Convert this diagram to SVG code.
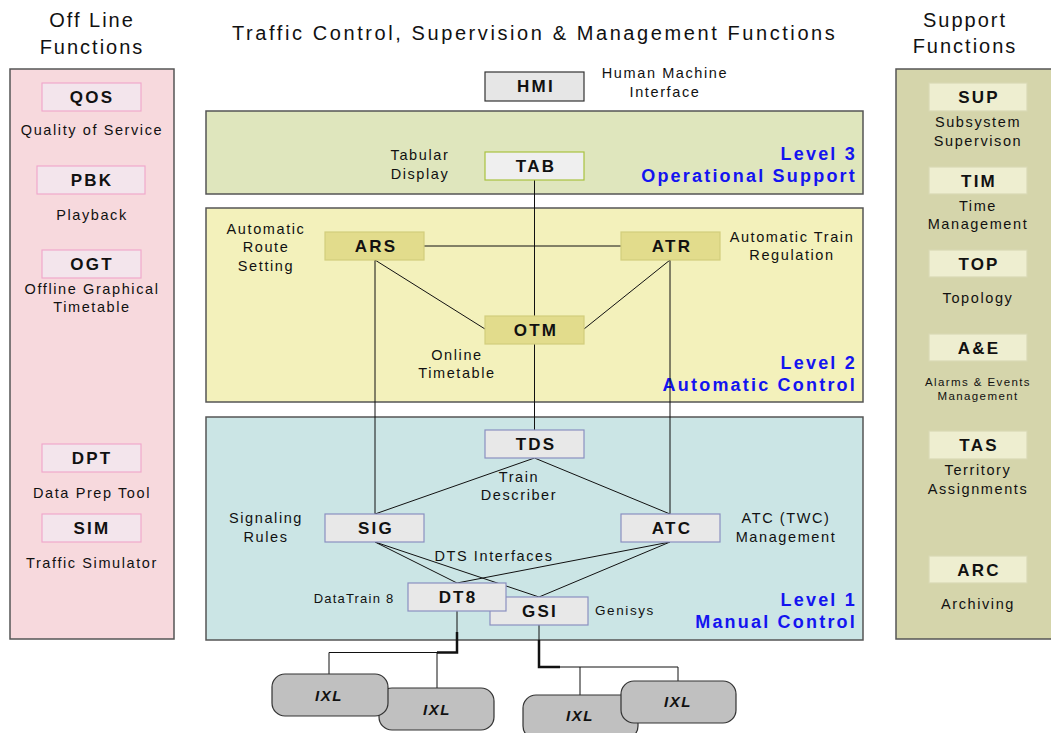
<svg xmlns="http://www.w3.org/2000/svg" width="1051" height="733" viewBox="0 0 1051 733">
<style>
text{font-family:"Liberation Sans",Arial,sans-serif;fill:#111}
.h{font-size:20px;letter-spacing:2px;text-anchor:middle}
.t{font-size:20px;letter-spacing:1.2px;text-anchor:middle}
.b{font-size:17px;font-weight:bold;letter-spacing:2.2px;text-anchor:middle}
.d{font-size:14.5px;letter-spacing:1.6px;text-anchor:middle}
.s{font-size:11.5px;letter-spacing:1.4px;text-anchor:middle}
.lv{font-size:18px;font-weight:bold;letter-spacing:2.2px;text-anchor:end;fill:#1414f0}
.ix{font-size:15px;font-weight:bold;font-style:italic;letter-spacing:1.5px;text-anchor:middle}
.panel{stroke:#555;stroke-width:1.5}
.pk{fill:#f3e5ec;stroke:#f0a8cc;stroke-width:1.2}
.ol{fill:#eeeed0;stroke:#d9d9b4;stroke-width:1.2}
.yl{fill:#e2dc8c;stroke:#d2cd7c;stroke-width:1.2}
.bl{fill:#e8e8e8;stroke:#8a8fc0;stroke-width:1.2}
.ixl{fill:#c0c0c0;stroke:#333;stroke-width:1.2}
.c{stroke:#111;stroke-width:1;fill:none}
.ct{stroke:#111;stroke-width:2.5;fill:none}
</style>

<!-- titles -->
<text class="h" x="92" y="27">Off Line</text>
<text class="h" x="92" y="54">Functions</text>
<text class="h" x="965" y="27">Support</text>
<text class="h" x="965" y="53">Functions</text>
<text class="t" x="534" y="40" textLength="604" lengthAdjust="spacing">Traffic Control, Supervision &amp; Management Functions</text>

<!-- panels -->
<g id="offline-panel"><rect class="panel" x="10" y="69" width="164" height="570" fill="#f7d9dd"/></g>
<g id="support-panel"><rect class="panel" x="896" y="69" width="160" height="570" fill="#d5d5ab"/></g>
<g id="level3"><rect class="panel" x="206" y="111" width="657" height="83" fill="#dfe6bd"/>
<text class="lv" x="857" y="160">Level 3</text><text class="lv" x="857" y="182">Operational Support</text></g>
<g id="level2"><rect class="panel" x="206" y="208" width="657" height="194" fill="#f3f1bb"/>
<text class="lv" x="857" y="369">Level 2</text><text class="lv" x="857" y="391">Automatic Control</text></g>
<g id="level1"><rect class="panel" x="206" y="417" width="657" height="223" fill="#cbe5e5"/>
<text class="lv" x="857" y="606">Level 1</text><text class="lv" x="857" y="628">Manual Control</text></g>

<!-- connectors -->
<g id="connectors">
<line class="c" x1="534.5" y1="180" x2="534.5" y2="430"/>
<line class="c" x1="424" y1="246" x2="621" y2="246"/>
<line class="c" x1="375" y1="260" x2="485" y2="329"/>
<line class="c" x1="670" y1="260" x2="584" y2="329"/>
<line class="c" x1="375" y1="260" x2="375" y2="514"/>
<line class="c" x1="670" y1="260" x2="670" y2="514"/>
<line class="c" x1="534.5" y1="458" x2="375" y2="514"/>
<line class="c" x1="534.5" y1="458" x2="670" y2="514"/>
<line class="c" x1="375" y1="542" x2="457" y2="583"/>
<line class="c" x1="375" y1="542" x2="539" y2="597"/>
<line class="c" x1="670" y1="542" x2="457" y2="583"/>
<line class="c" x1="670" y1="542" x2="539" y2="597"/>
<line class="c" x1="457" y1="611" x2="457" y2="632"/>
<polyline class="ct" points="457,632 457,652.5 437,652.5"/>
<polyline class="c" points="437,652.5 329,652.5 329,674"/>
<line class="c" x1="437" y1="652.5" x2="437" y2="688"/>
<line class="c" x1="539" y1="625" x2="539" y2="640"/>
<polyline class="ct" points="539,640 539,667 560,667"/>
<polyline class="c" points="560,667 678,667 678,681"/>
<line class="c" x1="580" y1="667" x2="580" y2="695"/>
</g>

<!-- offline functions -->
<g id="QOS"><rect class="pk" x="42" y="83" width="99" height="28"/><text class="b" x="92" y="103">QOS</text>
<text class="d" x="92" y="135">Quality of Service</text></g>
<g id="PBK"><rect class="pk" x="37" y="166" width="108" height="28"/><text class="b" x="92" y="186">PBK</text>
<text class="d" x="92" y="220">Playback</text></g>
<g id="OGT"><rect class="pk" x="42" y="250" width="99" height="28"/><text class="b" x="92" y="270">OGT</text>
<text class="d" x="92" y="294">Offline Graphical</text><text class="d" x="92" y="312">Timetable</text></g>
<g id="DPT"><rect class="pk" x="42" y="444" width="99" height="28"/><text class="b" x="92" y="464">DPT</text>
<text class="d" x="92" y="498">Data Prep Tool</text></g>
<g id="SIM"><rect class="pk" x="42" y="514" width="99" height="28"/><text class="b" x="92" y="534">SIM</text>
<text class="d" x="92" y="568">Traffic Simulator</text></g>

<!-- support functions -->
<g id="SUP"><rect class="ol" x="929" y="83" width="98" height="28"/><text class="b" x="979" y="103">SUP</text>
<text class="d" x="978" y="127">Subsystem</text><text class="d" x="978" y="146">Supervison</text></g>
<g id="TIM"><rect class="ol" x="929" y="167" width="98" height="27"/><text class="b" x="979" y="187">TIM</text>
<text class="d" x="978" y="211">Time</text><text class="d" x="978" y="229">Management</text></g>
<g id="TOP"><rect class="ol" x="929" y="250" width="98" height="27"/><text class="b" x="979" y="270">TOP</text>
<text class="d" x="978" y="303">Topology</text></g>
<g id="AE"><rect class="ol" x="929" y="334" width="98" height="27"/><text class="b" x="979" y="354">A&amp;E</text>
<text class="s" x="978" y="386">Alarms &amp; Events</text><text class="s" x="978" y="400">Management</text></g>
<g id="TAS"><rect class="ol" x="929" y="431" width="98" height="28"/><text class="b" x="979" y="451">TAS</text>
<text class="d" x="978" y="475">Territory</text><text class="d" x="978" y="494">Assignments</text></g>
<g id="ARC"><rect class="ol" x="929" y="556" width="98" height="27"/><text class="b" x="979" y="576">ARC</text>
<text class="d" x="978" y="609">Archiving</text></g>

<!-- HMI -->
<g id="HMI"><rect x="485" y="72" width="99" height="29" fill="#e6e6e6" stroke="#333" stroke-width="1.2"/><text class="b" x="536" y="92">HMI</text>
<text class="d" x="665" y="78">Human Machine</text><text class="d" x="665" y="97">Interface</text></g>

<!-- Level 3 -->
<g id="TAB"><rect x="485" y="152" width="99" height="28" fill="#efefef" stroke="#a9c23f" stroke-width="1.2"/><text class="b" x="536" y="172">TAB</text>
<text class="d" x="420" y="160">Tabular</text><text class="d" x="420" y="179">Display</text></g>

<!-- Level 2 -->
<g id="ARS"><rect class="yl" x="325" y="232" width="99" height="28"/><text class="b" x="376" y="252">ARS</text>
<text class="d" x="266" y="234">Automatic</text><text class="d" x="266" y="252">Route</text><text class="d" x="266" y="271">Setting</text></g>
<g id="ATR"><rect class="yl" x="621" y="232" width="99" height="28"/><text class="b" x="672" y="252">ATR</text>
<text class="d" x="792" y="242">Automatic Train</text><text class="d" x="792" y="260">Regulation</text></g>
<g id="OTM"><rect class="yl" x="485" y="316" width="99" height="28"/><text class="b" x="536" y="336">OTM</text>
<text class="d" x="457" y="360">Online</text><text class="d" x="457" y="378">Timetable</text></g>

<!-- Level 1 -->
<g id="TDS"><rect class="bl" x="485" y="430" width="99" height="28"/><text class="b" x="536" y="450">TDS</text>
<text class="d" x="519" y="482">Train</text><text class="d" x="519" y="500">Describer</text></g>
<g id="SIG"><rect class="bl" x="325" y="514" width="99" height="28"/><text class="b" x="376" y="534">SIG</text>
<text class="d" x="266" y="523">Signaling</text><text class="d" x="266" y="542">Rules</text></g>
<g id="ATC"><rect class="bl" x="621" y="514" width="99" height="28"/><text class="b" x="672" y="534">ATC</text>
<text class="d" x="786" y="523">ATC (TWC)</text><text class="d" x="786" y="542">Management</text></g>
<text class="d" x="494" y="561">DTS Interfaces</text>
<g id="GSI"><rect class="bl" x="490" y="597" width="98" height="28"/><text class="b" x="540" y="617">GSI</text>
<text class="d" x="595" y="615" style="text-anchor:start;font-size:13.5px">Genisys</text></g>
<g id="DT8"><rect class="bl" x="408" y="583" width="98" height="28"/><text class="b" x="458" y="603">DT8</text>
<text class="d" x="354" y="603" style="font-size:13px;letter-spacing:1.2px">DataTrain 8</text></g>

<!-- interlockings -->
<g id="IXL2"><rect class="ixl" x="379" y="688" width="115" height="42" rx="13"/><text class="ix" x="437" y="715">IXL</text></g>
<g id="IXL1"><rect class="ixl" x="272" y="674" width="116" height="42" rx="13"/><text class="ix" x="329" y="701">IXL</text></g>
<g id="IXL3"><rect class="ixl" x="523" y="695" width="115" height="44" rx="13"/><text class="ix" x="580" y="721">IXL</text></g>
<g id="IXL4"><rect class="ixl" x="621" y="681" width="115" height="42" rx="13"/><text class="ix" x="678" y="707">IXL</text></g>
</svg>
